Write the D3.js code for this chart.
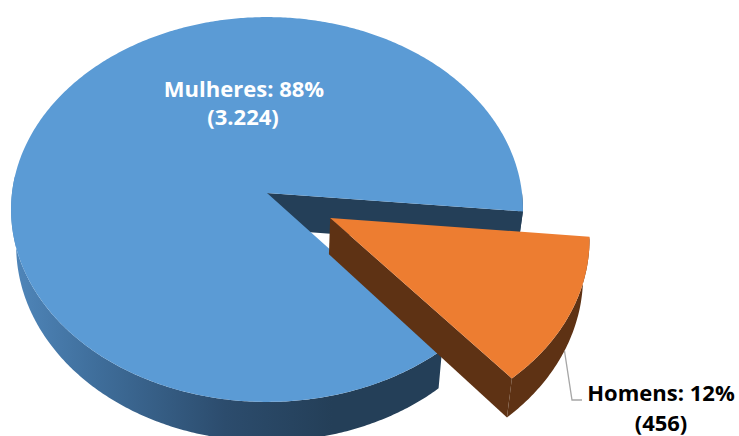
<!DOCTYPE html>
<html>
<head>
<meta charset="utf-8">
<script src="https://cdn.jsdelivr.net/npm/d3@7"></script>
<style>
  html, body { margin: 0; padding: 0; background: #fff; }
  svg { display: block; }
</style>
</head>
<body>
<div id="chart"></div>
<script>
// data
const categories = ["Mulheres", "Homens"];
const counts = [3224, 456];
const topColors = ["#5b9bd5", "#ed7d31"];
const sideColors = ["#243f58", "#5e3214"];
const explodeBy = [0, 0.277];

const width = 739;
const height = 436;

// fake 3d camera for the pie plane
const X0 = 267, Y0 = 193;   // where the pie centre lands
const A = 255, B = 191;     // horizontal / vertical radius
const K = 0.0857;           // perspective strength
const DEPTH = 36;           // thickness of the pie
const CONV = 0.02;          // verticals converge a little
const firstSliceAngle = 140.1 * Math.PI / 180;

const ptBR = d3.formatLocale({ decimal: ",", thousands: ".", grouping: [3], currency: ["R$", ""] });
const fmtCount = ptBR.format(",d");
const fmtPct = d3.format(".0%");
const total = d3.sum(counts);

function proj(u, v, z) {
    const s = 1 / (1 - K * v);
    let x = X0 + A * u * s;
    let y = Y0 + B * v * s;
    if (z) {
        x = X0 + (x - X0) * (1 - CONV);
        y += DEPTH * s;
    }
    return [x, y];
}

const svg = d3.select("#chart")
      .append("svg")
      .attr("width", width)
      .attr("height", height);

const defs = svg.append("defs");
const grad = defs.append("linearGradient")
      .attr("id", "blueSide")
      .attr("gradientUnits", "userSpaceOnUse")
      .attr("x1", 10).attr("y1", 0)
      .attr("x2", 440).attr("y2", 0);
grad.selectAll("stop")
    .data([[0, "#5087bb"], [0.2, "#3f6e9b"], [0.5, "#2c4c6d"], [0.75, "#243f58"], [1, "#243f58"]])
    .enter().append("stop")
    .attr("offset", d => d[0])
    .attr("stop-color", d => d[1]);

const arcs = d3.pie()
      .sort(null)
      .value(d => d)
      .startAngle(firstSliceAngle)
      .endAngle(firstSliceAngle + 2 * Math.PI)(counts);

const line = d3.line();

function sample(a0, a1) {
    const n = Math.max(2, Math.ceil(Math.abs(a1 - a0) / 0.01));
    return d3.range(n + 1).map(i => a0 + (a1 - a0) * i / n);
}

arcs.forEach(function (d, i) {
    const mid = (d.startAngle + d.endAngle) / 2;
    const ou = explodeBy[i] * Math.sin(mid);
    const ov = -explodeBy[i] * Math.cos(mid);
    const pt = (a, z) => proj(ou + Math.sin(a), ov - Math.cos(a), z);
    const centre = z => proj(ou, ov, z);
    const g = svg.append("g").attr("class", "slice-" + categories[i]);
    const sideFill = i === 0 ? "url(#blueSide)" : sideColors[i];

    // radial walls that face the viewer
    const walls = [];
    if (-Math.sin(d.startAngle) > 0) walls.push(d.startAngle);
    if (Math.sin(d.endAngle) > 0) walls.push(d.endAngle);
    walls.forEach(function (a) {
        g.append("path")
            .attr("d", line([centre(0), pt(a, 0), pt(a, 1), centre(1)]) + "Z")
            .attr("fill", sideColors[i]);
    });

    // outer rim, only the front half
    [0, 1, 2].forEach(function (k) {
        const lo = Math.max(d.startAngle, Math.PI / 2 + k * 2 * Math.PI);
        const hi = Math.min(d.endAngle, (275 / 180) * Math.PI + k * 2 * Math.PI);
        if (hi <= lo) return;
        const angs = sample(lo, hi);
        const pts = angs.map(a => pt(a, 0)).concat(angs.slice().reverse().map(a => pt(a, 1)));
        g.append("path")
            .attr("d", line(pts) + "Z")
            .attr("fill", sideFill);
    });

    // top face
    const topPts = [centre(0)].concat(sample(d.startAngle, d.endAngle).map(a => pt(a, 0)));
    g.append("path")
        .attr("d", line(topPts) + "Z")
        .attr("fill", topColors[i]);

    d.leaderStart = pt(mid, 1);
});

// labels
const labelFont = "'Open Sans', 'DejaVu Sans', sans-serif";

const inner = svg.append("text")
      .attr("text-anchor", "middle")
      .attr("font-family", labelFont)
      .attr("font-weight", 700)
      .attr("font-size", 22)
      .attr("fill", "#ffffff");
inner.append("tspan")
    .attr("x", 244).attr("y", 97)
    .text(categories[0] + ": " + fmtPct(counts[0] / total));
inner.append("tspan")
    .attr("x", 243).attr("y", 125)
    .text("(" + fmtCount(counts[0]) + ")");

// leader line for the small slice
const s = arcs[1].leaderStart;
svg.append("path")
    .attr("d", line([s, [572, 400], [582, 400]]))
    .attr("fill", "none")
    .attr("stroke", "#a6a6a6")
    .attr("stroke-width", 1.3);

const outer = svg.append("text")
      .attr("text-anchor", "middle")
      .attr("font-family", labelFont)
      .attr("font-weight", 700)
      .attr("font-size", 22)
      .attr("fill", "#000000");
outer.append("tspan")
    .attr("x", 661).attr("y", 401)
    .text(categories[1] + ": " + fmtPct(counts[1] / total));
outer.append("tspan")
    .attr("x", 661).attr("y", 431)
    .text("(" + fmtCount(counts[1]) + ")");
</script>
</body>
</html>
